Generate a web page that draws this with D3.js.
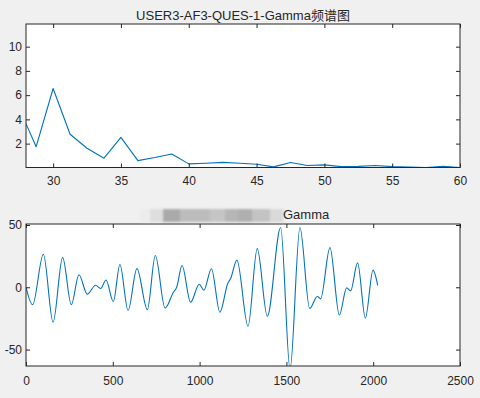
<!DOCTYPE html>
<html>
<head>
<meta charset="utf-8">
<script src="https://cdn.jsdelivr.net/npm/d3@7"></script>
<style>
  body { margin: 0; background: #f0f0f0; }
  svg { display: block; }
  text { font-family: "Liberation Sans", Arial, "Noto Sans CJK SC", sans-serif; fill: #262626; }
</style>
</head>
<body>
<script>

// spectrum (top plot)
var specFreq = [27.5, 28.75, 30, 31.25, 32.5, 33.75, 35, 36.25, 37.5, 38.75, 40, 41.25, 42.5, 43.75,
                45, 46.25, 47.5, 48.75, 50, 51.25, 52.5, 53.75, 55, 56.25, 57.5, 58.75, 60];
var specAmp = [4.9, 1.75, 6.55, 2.77, 1.62, 0.8, 2.52, 0.6, 0.85, 1.15, 0.33, 0.38, 0.45, 0.38,
               0.3, 0.08, 0.44, 0.19, 0.25, 0.1, 0.12, 0.2, 0.1, 0.07, 0.03, 0.12, 0.03];
var specXTicks = [30, 35, 40, 45, 50, 55, 60];
var specYTicks = [2, 4, 6, 8, 10];

var sigX = [0, 38, 100, 156, 211, 261, 305, 353, 401, 430, 461, 503, 541, 588, 639, 699, 745, 801, 849, 868,
            899, 948, 998, 1025, 1068, 1117, 1162, 1179, 1215, 1279, 1332, 1390, 1467, 1521, 1578, 1634, 1678, 1697, 1751, 1805,
            1847, 1870, 1910, 1955, 1999, 2026];
var sigY = [0, -14, 26.5, -28, 24, -14, 10, -5.5, 1.6, -1, 5.8, -11.4, 18.3, -18.6, 15, -18, 25.5, -16.7, -4, 0,
            17.5, -12, 2.4, -2.4, 14.9, -20, 3, 7, 21.8, -31.3, 31, -23.3, 48, -66, 48, -17, -7.4, -9.3, 31.8, -22.3,
            -0.5, -2.9, 19.6, -24.7, 13.8, 1.6];
var sigXTicks = [0, 500, 1000, 1500, 2000, 2500];
var sigYTicks = [-50, 0, 50];

var width = 480, height = 398;
var lineColor = "#0072BD", axisColor = "#262626";

var svg = d3.select("body")
  .append("svg")
  .attr("width", width)
  .attr("height", height);

function drawPanel(opt) {
  var g = svg.append("g");

  var xScale = d3.scaleLinear().domain(opt.xDomain).range([opt.left, opt.right]);
  var yScale = d3.scaleLinear().domain(opt.yDomain).range([opt.bottom, opt.top]);

  g.append("rect")
    .attr("x", opt.left).attr("y", opt.top)
    .attr("width", opt.right - opt.left).attr("height", opt.bottom - opt.top)
    .attr("fill", "#fff");

  var clipId = "clip" + opt.id;
  svg.append("clipPath").attr("id", clipId)
    .append("rect")
    .attr("x", opt.left).attr("y", opt.top)
    .attr("width", opt.right - opt.left).attr("height", opt.bottom - opt.top);

  var line = d3.line()
    .x(function(d) { return xScale(d[0]); })
    .y(function(d) { return yScale(d[1]); })
    .curve(opt.curve);

  g.append("path")
    .datum(d3.zip(opt.xs, opt.ys))
    .attr("clip-path", "url(#" + clipId + ")")
    .attr("d", line)
    .attr("fill", "none")
    .attr("stroke", lineColor)
    .attr("stroke-width", 1.1)
    .attr("stroke-linejoin", "round");

  // plain hyphen for negatives, like the original figure
  var fmt = function(d) { return String(d); };

  // axes, ticks pointing inward on all four sides
  g.append("g")
    .attr("transform", `translate(0, ${opt.bottom})`)
    .call(d3.axisBottom(xScale).tickValues(opt.xTicks).tickSize(-4).tickPadding(opt.xPad).tickFormat(fmt));
  g.append("g")
    .attr("transform", `translate(${opt.left}, 0)`)
    .call(d3.axisLeft(yScale).tickValues(opt.yTicks).tickSize(-4).tickPadding(4).tickFormat(fmt));
  g.append("g")
    .attr("transform", `translate(0, ${opt.top})`)
    .call(d3.axisTop(xScale).tickValues(opt.xTicks).tickSize(-4).tickFormat(""));
  g.append("g")
    .attr("transform", `translate(${opt.right}, 0)`)
    .call(d3.axisRight(yScale).tickValues(opt.yTicks).tickSize(-4).tickFormat(""));

  g.selectAll(".domain").remove();
  g.selectAll(".tick line").attr("stroke", axisColor);
  g.selectAll(".tick text")
    .attr("fill", axisColor)
    .style("font-size", "12px")
    .style("font-family", "\"Liberation Sans\", Arial, sans-serif");

  g.append("rect")
    .attr("x", opt.left).attr("y", opt.top)
    .attr("width", opt.right - opt.left).attr("height", opt.bottom - opt.top)
    .attr("fill", "none")
    .attr("stroke", axisColor)
    .attr("stroke-width", 1);

  return g;
}

drawPanel({
  id: 1, left: 26, right: 460, top: 24, bottom: 167.5,
  xDomain: [28, 60], yDomain: [0.03, 11.87],
  xs: specFreq, ys: specAmp, xTicks: specXTicks, yTicks: specYTicks,
  xPad: 9, curve: d3.curveLinear
});

drawPanel({
  id: 2, left: 26, right: 460, top: 224, bottom: 366,
  xDomain: [0, 2500], yDomain: [-63.2, 50.8],
  xs: sigX, ys: sigY, xTicks: sigXTicks, yTicks: sigYTicks,
  xPad: 10, curve: d3.curveMonotoneX
});

// titles
svg.append("text")
  .attr("x", 243).attr("y", 20)
  .attr("text-anchor", "middle")
  .style("font-size", "13px")
  .text("USER3-AF3-QUES-1-Gamma频谱图");

// pixelated (masked) part of the lower title
var maskBlocks = [
  { x: 140, w: 10, c: "#ececec" },
  { x: 150, w: 13, c: "#dedede" },
  { x: 163, w: 17, c: "#aaaaaa" },
  { x: 180, w: 30, c: "#bcbcbc" },
  { x: 210, w: 15, c: "#c5c5c5" },
  { x: 225, w: 13, c: "#b6b6b6" },
  { x: 238, w: 14, c: "#afafaf" },
  { x: 252, w: 18, c: "#c3c3c3" },
  { x: 270, w: 13, c: "#d9d9d9" }
];
var defs = svg.append("defs");
defs.append("filter").attr("id", "soft")
  .append("feGaussianBlur").attr("stdDeviation", 1.2);
svg.append("g")
  .attr("filter", "url(#soft)")
  .selectAll("rect")
  .data(maskBlocks)
  .enter()
  .append("rect")
    .attr("x", function(d) { return d.x; })
    .attr("y", 209)
    .attr("width", function(d) { return d.w + 0.5; })
    .attr("height", 13)
    .attr("fill", function(d) { return d.c; });

svg.append("text")
  .attr("x", 283).attr("y", 219)
  .style("font-size", "13px")
  .text("Gamma");

</script>
</body>
</html>
